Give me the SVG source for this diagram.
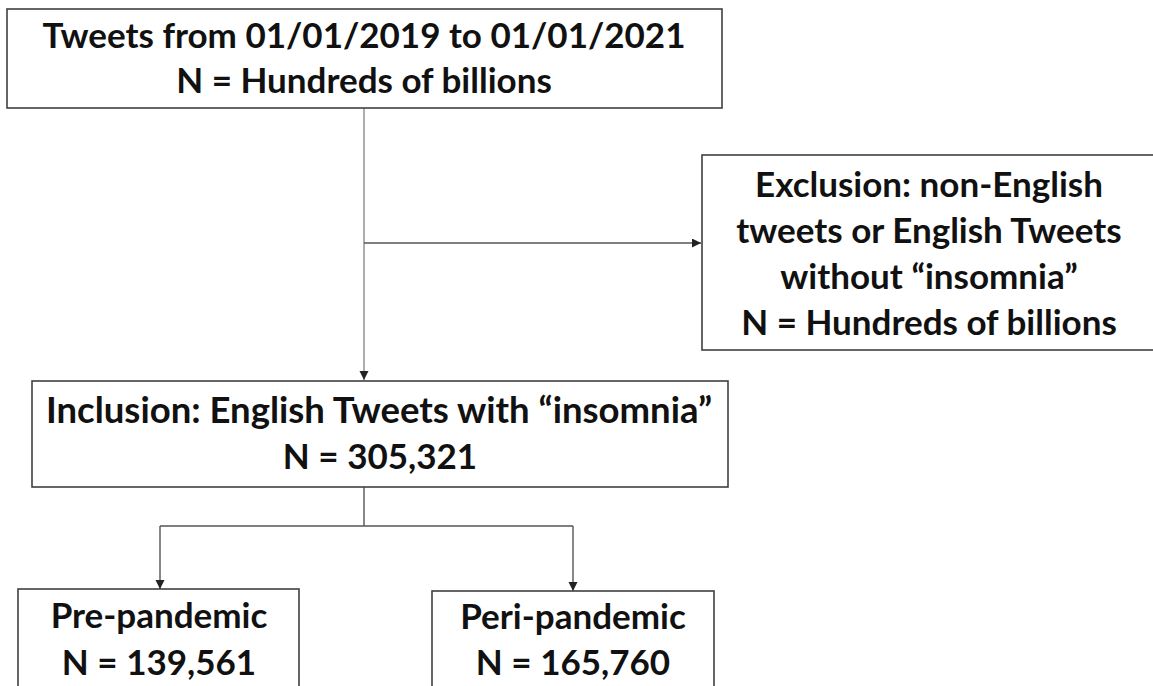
<svg xmlns="http://www.w3.org/2000/svg" width="1153" height="686" viewBox="0 0 1153 686">
<defs>
<style>
.box{fill:#fff;stroke:#404040;stroke-width:1.6}
.t{font-family:Lato,"Open Sans","Liberation Sans",sans-serif;font-weight:700;font-size:35px;fill:#111;text-anchor:middle}
.c{fill:none;stroke:#555;stroke-width:1.4}
.cl{fill:none;stroke:#9a9a9a;stroke-width:1.6}
</style>
<marker id="ah" markerUnits="userSpaceOnUse" markerWidth="10" markerHeight="10" refX="9" refY="4.5" orient="auto">
<path d="M0,0 L9,4.5 L0,9 Z" fill="#222"/>
</marker>
</defs>
<rect width="1153" height="686" fill="#fff"/>
<g id="connectors">
<path class="cl" d="M364,108 V380" marker-end="url(#ah)"/>
<path class="c" d="M364,243 H701" marker-end="url(#ah)"/>
<path class="c" d="M364,487 V526"/>
<path class="c" d="M160,526 H573"/>
<path class="c" d="M160,526 V589" marker-end="url(#ah)"/>
<path class="c" d="M573,526 V591" marker-end="url(#ah)"/>
</g>
<g id="tweets">
<rect class="box" x="7" y="9" width="715" height="99"/>
<text class="t" x="364" y="48">Tweets from 01/01/2019 to 01/01/2021</text>
<text class="t" x="364" y="93">N = Hundreds of billions</text>
</g>
<g id="exclusion">
<rect class="box" x="702" y="155" width="460" height="195"/>
<text class="t" x="929" y="197">Exclusion: non-English</text>
<text class="t" x="929" y="243">tweets or English Tweets</text>
<text class="t" x="929" y="289">without “insomnia”</text>
<text class="t" x="929" y="335">N = Hundreds of billions</text>
</g>
<g id="inclusion">
<rect class="box" x="32" y="381" width="696" height="106"/>
<text class="t" x="379" y="423" style="font-size:36.5px">Inclusion: English Tweets with “insomnia”</text>
<text class="t" x="380" y="469">N = 305,321</text>
</g>
<g id="pre">
<rect class="box" x="18" y="589" width="281" height="120"/>
<text class="t" x="159" y="628">Pre-pandemic</text>
<text class="t" x="159" y="675">N = 139,561</text>
</g>
<g id="peri">
<rect class="box" x="432" y="591" width="282" height="120"/>
<text class="t" x="573" y="629">Peri-pandemic</text>
<text class="t" x="573" y="675">N = 165,760</text>
</g>
</svg>
